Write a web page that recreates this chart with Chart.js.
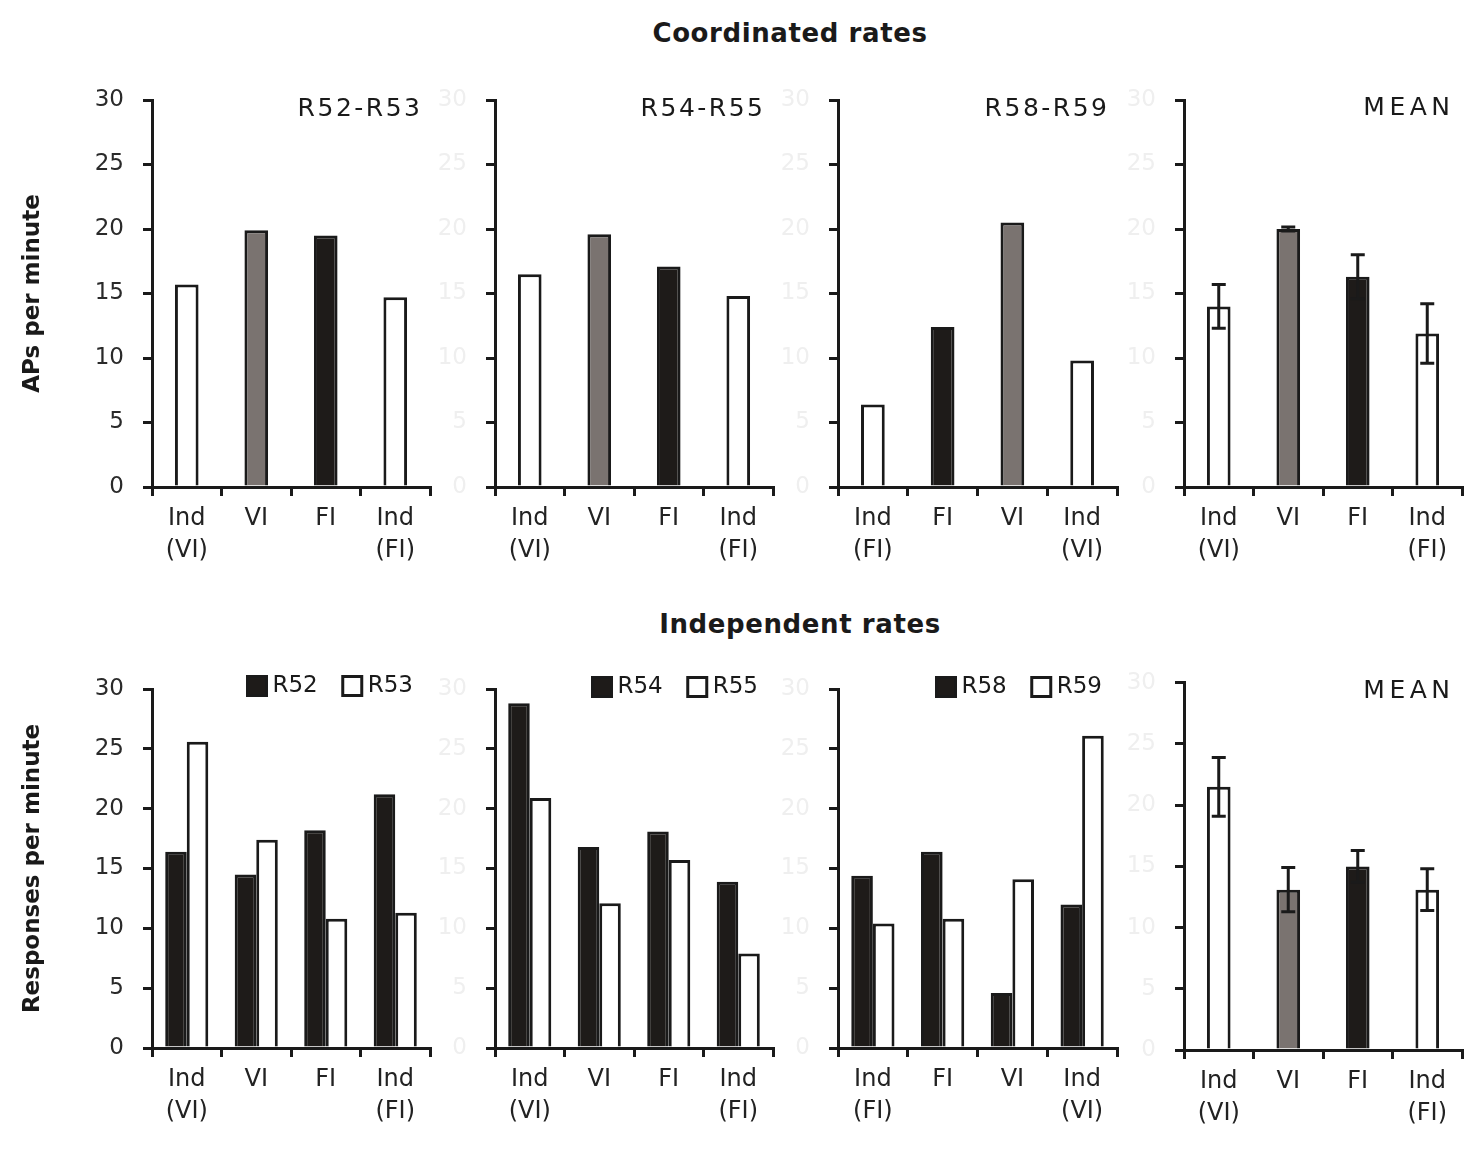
<!DOCTYPE html>
<html>
<head>
<meta charset="utf-8">
<script src="https://cdn.jsdelivr.net/npm/chart.js@4.4.0/dist/chart.umd.min.js"></script>
<style>
body { margin:0; background:#fff; width:1470px; height:1150px; position:relative; overflow:hidden; font-family:'DejaVu Sans', sans-serif; }
.box { position:absolute; }
.head { position:absolute; font-weight:bold; font-size:26px; line-height:30px; color:#1a1a1a; letter-spacing:0.6px; transform:translateX(-50%); white-space:nowrap; }
</style>
</head>
<body>
<div class="head" style="left:790px; top:18px">Coordinated rates</div>
<div class="head" style="left:800px; top:609px">Independent rates</div>

<div class="box" style="left:0px;top:60px;width:435px;height:515px"><canvas id="c1"></canvas></div>
<div class="box" style="left:435px;top:60px;width:343px;height:515px"><canvas id="c2"></canvas></div>
<div class="box" style="left:778px;top:60px;width:344px;height:515px"><canvas id="c3"></canvas></div>
<div class="box" style="left:1124px;top:60px;width:343px;height:515px"><canvas id="c4"></canvas></div>

<div class="box" style="left:0px;top:650px;width:435px;height:490px"><canvas id="c5"></canvas></div>
<div class="box" style="left:435px;top:650px;width:343px;height:490px"><canvas id="c6"></canvas></div>
<div class="box" style="left:778px;top:650px;width:344px;height:490px"><canvas id="c7"></canvas></div>
<div class="box" style="left:1124px;top:650px;width:343px;height:490px"><canvas id="c8"></canvas></div>

<script>
// categories (order differs for the R58-R59 pair)
var catsA = [['Ind', '(VI)'], 'VI', 'FI', ['Ind', '(FI)']];
var catsB = [['Ind', '(FI)'], 'FI', 'VI', ['Ind', '(VI)']];

// coordinated rates, APs per minute
var coordR52R53 = [15.7, 19.9, 19.5, 14.7];
var coordR54R55 = [16.5, 19.6, 17.1, 14.8];
var coordR58R59 = [6.4, 12.4, 20.5, 9.8];
var coordMean = [14.0, 20.0, 16.3, 11.9];
var coordErr = [1.7, 0.15, 1.7, 2.3];

// independent rates, responses per minute
var indR52 = [16.4, 14.5, 18.2, 21.2];
var indR53 = [25.6, 17.4, 10.8, 11.3];
var indR54 = [28.8, 16.8, 18.1, 13.9];
var indR55 = [20.9, 12.1, 15.7, 7.9];
var indR58 = [14.4, 16.4, 4.6, 12.0];
var indR59 = [10.4, 10.8, 14.1, 26.1];
var indMean = [21.5, 13.1, 15.0, 13.1];
var indErr = [2.4, 1.8, 1.3, 1.7];

var WHITE = '#ffffff', GREY = '#7a7370', BLACK = '#1e1b19', INK = '#1a1a1a';

Chart.defaults.font.family = "'DejaVu Sans', sans-serif";
Chart.defaults.color = INK;
Chart.defaults.animation = false;

function fillFor(cat) {
    if (Array.isArray(cat)) return WHITE;
    return cat === 'VI' ? GREY : BLACK;
}

// panel name or legend drawn inside the top right of the plot
var panelText = {
    id: 'panelText',
    afterDraw: function (chart, args, opts) {
        var ctx = chart.ctx, a = chart.chartArea;
        ctx.save();
        ctx.fillStyle = INK;
        ctx.textBaseline = 'middle';
        if (opts.label) {
            ctx.font = "25px 'DejaVu Sans'";
            ctx.letterSpacing = opts.spacing + 'px';
            ctx.textAlign = 'right';
            ctx.fillText(opts.label, a.right - opts.dx + opts.spacing, a.top + opts.dy);
        }
        if (opts.legend) {
            ctx.font = "23px 'DejaVu Sans'";
            ctx.textAlign = 'left';
            var x = a.right - opts.dx, y = a.top + opts.dy;
            var sets = chart.data.datasets;
            for (var i = sets.length - 1; i >= 0; i--) {
                var w = ctx.measureText(sets[i].label).width;
                ctx.fillStyle = INK;
                ctx.fillText(sets[i].label, x - w, y);
                x -= w + 6;
                ctx.fillStyle = sets[i].backgroundColor;
                ctx.fillRect(x - 19, y - 9.5, 19, 19);
                ctx.strokeStyle = INK;
                ctx.lineWidth = 3;
                ctx.strokeRect(x - 19, y - 9.5, 19, 19);
                x -= 19 + 25;
            }
        }
        ctx.restore();
    }
};

var errorBars = {
    id: 'errorBars',
    afterDatasetsDraw: function (chart, args, opts) {
        if (!opts.errors) return;
        var ctx = chart.ctx, y = chart.scales.y;
        var vals = chart.data.datasets[0].data;
        ctx.save();
        ctx.strokeStyle = INK;
        ctx.lineWidth = 3;
        chart.getDatasetMeta(0).data.forEach(function (bar, i) {
            var top = y.getPixelForValue(vals[i] + opts.errors[i]);
            var bot = y.getPixelForValue(vals[i] - opts.errors[i]);
            ctx.beginPath();
            ctx.moveTo(bar.x, top); ctx.lineTo(bar.x, bot);
            ctx.moveTo(bar.x - 7, top); ctx.lineTo(bar.x + 7, top);
            ctx.moveTo(bar.x - 7, bot); ctx.lineTo(bar.x + 7, bot);
            ctx.stroke();
        });
        ctx.restore();
    }
};

Chart.register(panelText, errorBars);

function single(label, cats, values) {
    return [{
        label: label, data: values,
        backgroundColor: cats.map(fillFor),
        borderColor: INK, borderWidth: 3,
        barPercentage: 0.34, categoryPercentage: 1
    }];
}

function pair(names, a, b) {
    return [
        { label: names[0], data: a, backgroundColor: BLACK, borderColor: INK, borderWidth: 3, barPercentage: 1, categoryPercentage: 0.62 },
        { label: names[1], data: b, backgroundColor: WHITE, borderColor: INK, borderWidth: 3, barPercentage: 1, categoryPercentage: 0.62 }
    ];
}

function makePanel(id, cats, datasets, o) {
    return new Chart(document.getElementById(id), {
        type: 'bar',
        data: { labels: cats, datasets: datasets },
        options: {
            responsive: true,
            maintainAspectRatio: false,
            layout: { padding: { top: o.padTop, right: 5, left: 0, bottom: 0 } },
            plugins: {
                legend: { display: false },
                tooltip: { enabled: false },
                panelText: o.text,
                errorBars: { errors: o.errors }
            },
            scales: {
                x: {
                    grid: { drawOnChartArea: false, tickLength: 9, lineWidth: 3, color: INK, offset: true },
                    border: { color: INK, width: 3 },
                    ticks: { color: '#222222', font: { size: 24, lineHeight: 1.33 }, padding: 7, maxRotation: 0, autoSkip: false },
                    afterFit: function (s) { s.height = o.xHeight; }
                },
                y: {
                    min: 0, max: 30,
                    ticks: { stepSize: 5, color: o.tickColor, font: { size: 23 }, padding: 19 },
                    grid: { drawOnChartArea: false, tickLength: 9, lineWidth: 3, color: INK },
                    border: { color: INK, width: 3 },
                    title: o.yTitle ? { display: true, text: o.yTitle, color: INK, font: { size: 23, weight: 'bold' }, padding: { top: 19, bottom: 0 } } : { display: false },
                    afterFit: function (s) { s.width = o.yWidth; }
                }
            }
        }
    });
}

var faint = '#efefef', dark = '#2a2a2a';

makePanel('c1', catsA, single('R52-R53', catsA, coordR52R53),
    { padTop: 40, xHeight: 88, yWidth: 152, tickColor: dark, yTitle: 'APs per minute', text: { label: 'R52-R53', spacing: 2.5, dx: 10, dy: 9 } });
makePanel('c2', catsA, single('R54-R55', catsA, coordR54R55),
    { padTop: 40, xHeight: 88, yWidth: 60, tickColor: faint, text: { label: 'R54-R55', spacing: 2.5, dx: 10, dy: 9 } });
makePanel('c3', catsB, single('R58-R59', catsB, coordR58R59),
    { padTop: 40, xHeight: 88, yWidth: 60, tickColor: faint, text: { label: 'R58-R59', spacing: 2.5, dx: 10, dy: 9 } });
makePanel('c4', catsA, single('MEAN', catsA, coordMean),
    { padTop: 40, xHeight: 88, yWidth: 60, tickColor: faint, errors: coordErr, text: { label: 'MEAN', spacing: 4.5, dx: 12, dy: 8 } });

makePanel('c5', catsA, pair(['R52', 'R53'], indR52, indR53),
    { padTop: 39, xHeight: 92, yWidth: 152, tickColor: dark, yTitle: 'Responses per minute', text: { legend: true, dx: 17, dy: -3 } });
makePanel('c6', catsA, pair(['R54', 'R55'], indR54, indR55),
    { padTop: 39, xHeight: 92, yWidth: 60, tickColor: faint, text: { legend: true, dx: 15, dy: -2 } });
makePanel('c7', catsB, pair(['R58', 'R59'], indR58, indR59),
    { padTop: 39, xHeight: 92, yWidth: 60, tickColor: faint, text: { legend: true, dx: 15, dy: -2 } });
makePanel('c8', catsA, single('MEAN', catsA, indMean),
    { padTop: 25, xHeight: 90, yWidth: 60, tickColor: faint, errors: indErr, text: { label: 'MEAN', spacing: 4.5, dx: 12, dy: 9 } });
</script>
</body>
</html>
